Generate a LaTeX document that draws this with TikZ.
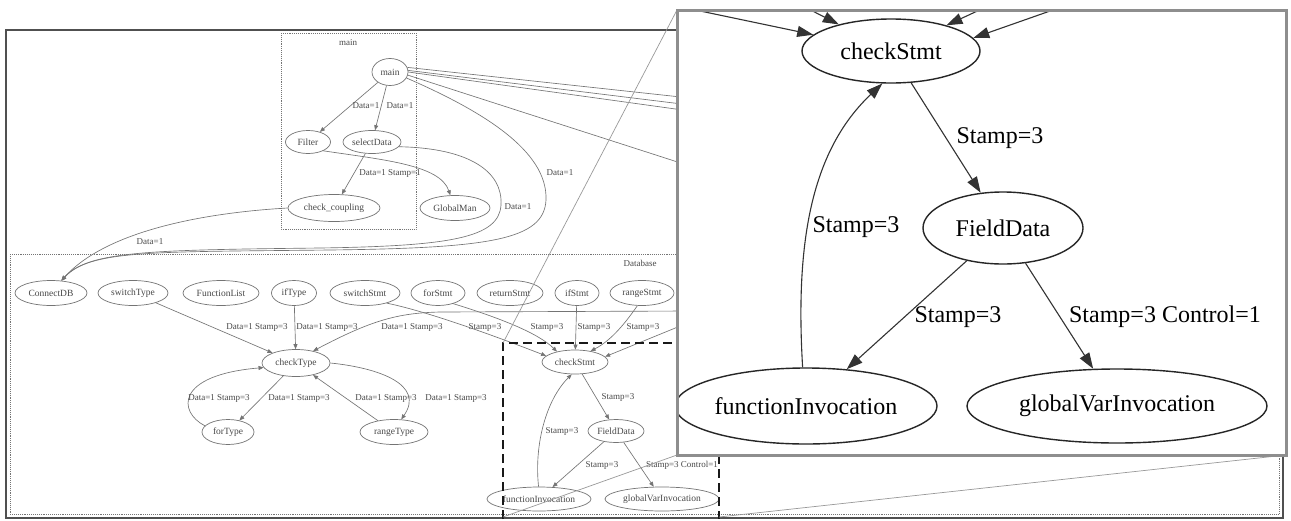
\documentclass[tikz,border=0pt]{standalone}
\usepackage{fontspec}
\setmainfont{Liberation Serif}
\usetikzlibrary{shapes.geometric,arrows.meta}
\definecolor{sgray}{HTML}{747474}
\definecolor{stext}{HTML}{484848}
\definecolor{boxgray}{HTML}{8E8E8E}
\definecolor{framegray}{HTML}{505050}
\tikzset{
  sn/.style={ellipse,draw=sgray,line width=0.7pt,inner sep=0pt,font=\fontsize{9.5}{10}\selectfont,text=stext},
  se/.style={draw=sgray,line width=0.65pt,-{Triangle[length=5pt,width=4pt]}},
  sline/.style={draw=sgray,line width=0.65pt},
  sl/.style={font=\fontsize{9}{10}\selectfont,text=stext,inner sep=0pt},
  ln/.style={ellipse,draw=black!85,line width=1.4pt,inner sep=0pt,font=\fontsize{24}{28}\selectfont},
  le/.style={draw=black!80,line width=1.1pt,-{Triangle[length=16pt,width=11pt]}},
  ll/.style={font=\fontsize{24}{28}\selectfont,inner sep=0pt},
  clus/.style={draw=sgray,densely dotted,line width=0.9pt},
  zline/.style={draw=gray!80,line width=0.7pt},
  dbox/.style={draw=black!90,line width=2.2pt,dash pattern=on 9pt off 5pt},
}
\begin{document}
\begin{tikzpicture}[x=1pt,y=-1pt]
\fill[white] (0,0) rectangle (1291,520);
\useasboundingbox (0,0) rectangle (1291,520);
% frame and clusters
\draw[framegray,line width=1.5pt] (6,30) rectangle (1283,518);
\draw[clus] (281,33) rectangle (416,229);
\node[sl] (clmain) at (348,43) {main};
\draw[clus] (10,254) rectangle (1279,514);
\node[sl] (cldb) at (640,263) {Database};
% main cluster nodes
\node[sn,minimum width=36pt,minimum height=27pt] (main) at (390,72) {main};
\node[sn,minimum width=45pt,minimum height=23pt] (filter) at (308,142) {Filter};
\node[sn,minimum width=58pt,minimum height=23pt] (select) at (372,142) {selectData};
\node[sn,minimum width=92pt,minimum height=27pt] (coupling) at (334,208) {check\_coupling};
\node[sn,minimum width=70pt,minimum height=25pt] (globalman) at (455,208) {GlobalMan};
% database nodes
\node[sn,minimum width=72pt,minimum height=25pt] (connectdb) at (51,293) {ConnectDB};
\node[sn,minimum width=70pt,minimum height=25pt] (switchtype) at (133,293) {switchType};
\node[sn,minimum width=76pt,minimum height=25pt] (functionlist) at (221,293) {FunctionList};
\node[sn,minimum width=45pt,minimum height=25pt] (iftype) at (294,293) {ifType};
\node[sn,minimum width=70pt,minimum height=25pt] (switchstmt) at (365,293) {switchStmt};
\node[sn,minimum width=54pt,minimum height=25pt] (forstmt) at (438,293) {forStmt};
\node[sn,minimum width=66pt,minimum height=25pt] (returnstmt) at (510,293) {returnStmt};
\node[sn,minimum width=44pt,minimum height=25pt] (ifstmt) at (577,293) {ifStmt};
\node[sn,minimum width=64pt,minimum height=25pt] (rangestmt) at (642,293) {rangeStmt};
\node[sn,minimum width=68pt,minimum height=27pt] (checktype) at (296,363) {checkType};
\node[sn,minimum width=52pt,minimum height=25pt] (fortype) at (228,432) {forType};
\node[sn,minimum width=68pt,minimum height=25pt] (rangetype) at (394,432) {rangeType};
\node[sn,minimum width=66pt,minimum height=24pt] (checkstmt) at (575,362) {checkStmt};
\node[sn,minimum width=56pt,minimum height=23pt] (fielddata) at (616,431) {FieldData};
\node[sn,minimum width=104pt,minimum height=24pt] (funcinv) at (539,499) {functionInvocation};
\node[sn,minimum width=114pt,minimum height=24pt] (globalvar) at (662,499) {globalVarInvocation};
% off-screen end points
\coordinate (r1) at (690,98);
\coordinate (r2) at (690,105);
\coordinate (r3) at (690,111);
\coordinate (r4) at (690,166);
\coordinate (rc1) at (690,311);
\coordinate (rc2) at (690,322);
% main cluster edges
\draw[se] (main) -- (filter);
\draw[se] (main) -- (select);
\draw[se] (select) -- (coupling);
\draw[se] (filter.-30) .. controls (385,160) and (440,165) .. (globalman.110);
\draw[se] (main.-20) .. controls (480,110) and (548,150) .. (546,200) .. controls (544,240) and (490,248) .. (330,250) .. controls (150,252) and (90,250) .. (connectdb.50);
\draw[se] (select.-10) .. controls (470,148) and (503,172) .. (501,205) .. controls (499,238) and (450,246) .. (320,248) .. controls (150,250) and (88,251) .. (connectdb.50);
\draw[se] (coupling.west) .. controls (200,213) and (105,232) .. (connectdb.50);
\draw[sline] (main.15) -- (r1);
\draw[sline] (main.5) -- (r2);
\draw[sline] (main.0) -- (r3);
\draw[sline] (main.-10) -- (r4);
\node[sl] (l1) at (366,106) {Data=1};
\node[sl] (l2) at (400,106) {Data=1};
\node[sl] (l3) at (390,173) {Data=1 Stamp=1};
\node[sl] (l4) at (560,173) {Data=1};
\node[sl] (l5) at (518,207) {Data=1};
\node[sl] (l6) at (150,242) {Data=1};
% database edges
\draw[se] (switchtype) -- (checktype);
\draw[se] (iftype) -- (checktype);
\draw[se] (rc1) -- (440,312) .. controls (398,313) and (372,320) .. (checktype.35);
\draw[se] (checktype) -- (fortype);
\draw[se] (fortype.165) .. controls (178,412) and (175,375) .. (checktype.188);
\draw[se] (rangetype) -- (checktype);
\draw[se] (checktype.east) .. controls (380,368) and (425,385) .. (rangetype.60);
\draw[se] (switchstmt.-25) .. controls (430,312) and (500,338) .. (checkstmt.168);
\draw[se] (forstmt.-35) .. controls (500,318) and (538,333) .. (checkstmt.150);
\draw[se] (ifstmt) -- (checkstmt);
\draw[se] (rangestmt.250) .. controls (626,322) and (612,340) .. (checkstmt.35);
\draw[se] (rc2) -- (checkstmt.10);
\draw[se] (checkstmt) -- (fielddata);
\draw[se] (funcinv.92) .. controls (534,445) and (546,400) .. (checkstmt.-105);
\draw[se] (fielddata) -- (funcinv);
\draw[se] (fielddata) -- (globalvar);
\node[sl] (l7) at (257,327) {Data=1 Stamp=3};
\node[sl] (l8) at (327,327) {Data=1 Stamp=3};
\node[sl] (l9) at (412,327) {Data=1 Stamp=3};
\node[sl] (l10) at (485,327) {Stamp=3};
\node[sl] (l11) at (547,327) {Stamp=3};
\node[sl] (l12) at (594,327) {Stamp=3};
\node[sl] (l13) at (643,327) {Stamp=3};
\node[sl] (l14) at (219,398) {Data=1 Stamp=3};
\node[sl] (l15) at (299,398) {Data=1 Stamp=3};
\node[sl] (l16) at (386,398) {Data=1 Stamp=3};
\node[sl] (l17) at (456,398) {Data=1 Stamp=3};
\node[sl] (l18) at (618,397) {Stamp=3};
\node[sl] (l19) at (562,431) {Stamp=3};
\node[sl] (l20) at (602,465) {Stamp=3};
\node[sl] (l21) at (682,465) {Stamp=3 Control=1};
% dashed selection and zoom lines
\coordinate (dtl) at (503,343);
\coordinate (dtr) at (719,343);
\coordinate (dbl) at (503,519);
\coordinate (dbr) at (719,519);
\coordinate (dbl2) at (503,517);
\coordinate (dbr2) at (719,517);
\coordinate (ztl) at (677,10);
\coordinate (ztr) at (1286,10);
\coordinate (zbl) at (677,455);
\coordinate (zbr) at (1286,455);
\draw[dbox] (dbl) -- (dtl) -- (dtr) -- (dbr);
\draw[zline] (dtl) -- (ztl);
\draw[zline] (dtr) -- (ztr);
\draw[zline] (dbl2) -- (zbl);
\draw[zline] (dbr2) -- (zbr);
% zoom box
\draw[draw=boxgray,line width=3pt,fill=white] (ztl) rectangle (zbr);
\begin{scope}
\clip (679,12) rectangle (1284,453);
\node[ln,minimum width=178pt,minimum height=64pt] (checkstmtL) at (891,51) {checkStmt};
\node[ln,minimum width=160pt,minimum height=72pt] (fielddataL) at (1003,228) {FieldData};
\node[ln,minimum width=262pt,minimum height=76pt] (funcinvL) at (806,406) {functionInvocation};
\node[ln,minimum width=300pt,minimum height=74pt] (globalvarL) at (1117,406) {globalVarInvocation};
\coordinate (e1) at (600,-10);
\coordinate (e2) at (738,-27);
\coordinate (e3) at (1053,-24);
\coordinate (e4) at (1070,4);
\draw[le] (e1) -- (checkstmtL);
\draw[le] (e2) -- (checkstmtL);
\draw[le] (e3) -- (checkstmtL);
\draw[le] (e4) -- (checkstmtL.9);
\draw[le] (checkstmtL) -- (fielddataL);
\draw[le] (funcinvL.95) .. controls (795,240) and (812,150) .. (checkstmtL.-105);
\draw[le] (fielddataL) -- (funcinvL);
\draw[le] (fielddataL) -- (globalvarL);
\node[ll] (L1) at (1000,138) {Stamp=3};
\node[ll] (L2) at (856,227) {Stamp=3};
\node[ll] (L3) at (958,317) {Stamp=3};
\node[ll] (L4) at (1165,317) {Stamp=3 Control=1};
\end{scope}
\end{tikzpicture}
\end{document}
